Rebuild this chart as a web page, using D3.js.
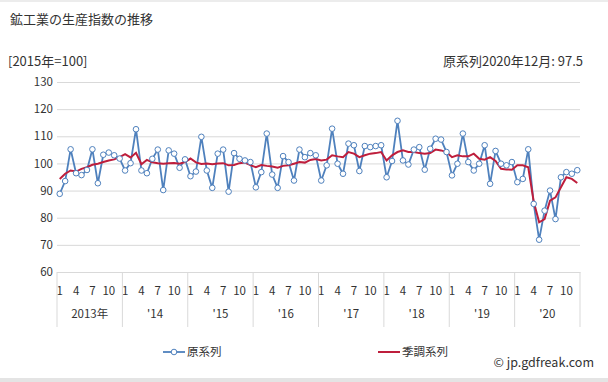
<!DOCTYPE html>
<html><head><meta charset="utf-8">
<script src="https://cdn.jsdelivr.net/npm/d3@7"></script>
<style>
body{margin:0;background:#fff;}
text{font-family:"Noto Sans CJK JP","Noto Sans",sans-serif;fill:#333;}
</style></head>
<body><svg id="c" width="608" height="382"></svg>
<script>
const years = [2013,2014,2015,2016,2017,2018,2019,2020];
const yearLabels = ["2013年","'14","'15","'16","'17","'18","'19","'20"];
const monthTicks = [1,4,7,10];
const yTicks = [60,70,80,90,100,110,120,130];
const original = [
 88.8, 93.5,105.2, 96.4, 95.7, 97.6,105.2, 92.7,103.2,104.0,103.0,101.8,
 97.4,100.1,112.6, 97.4, 96.4,101.7,105.1, 90.2,104.8,103.6, 98.4,101.5,
 95.3, 97.0,109.8, 97.4, 91.0,103.6,105.1, 89.6,103.8,101.7,101.1,100.5,
 91.2, 96.8,111.0, 95.9, 91.0,102.7,100.5, 93.7,105.1,102.3,103.8,103.0,
 93.7, 99.3,112.8, 99.9, 96.2,107.3,106.7, 97.2,106.4,106.0,106.4,106.7,
 94.9,100.9,115.7,101.1, 99.6,105.1,106.0, 97.7,105.4,109.1,108.8,104.2,
 95.6, 99.9,111.0,100.5, 97.4, 99.9,106.7, 92.5,104.6, 99.9, 99.3,100.5,
 93.1, 94.3,105.2, 85.1, 71.9, 82.6, 90.0, 79.5, 94.9, 96.8, 96.2, 97.5];
const adjusted = [
 94.3, 96.2, 97.4, 97.0, 98.0, 98.6, 99.5, 99.9,100.5,101.1,101.5,102.3,
103.4,102.2,103.9, 99.7,101.3,100.4,100.1, 99.9,100.1,100.2, 99.9,100.5,
101.8,100.4, 99.8,100.0, 99.7,100.0,100.1, 99.3, 99.4,100.1,100.3, 99.4,
 98.6, 99.4, 99.1, 98.9, 98.4, 99.1, 99.3, 99.9,100.5,100.3,101.3,101.6,
101.1,101.4,103.0,102.6,102.3,104.2,103.6,102.3,103.0,103.6,103.8,104.2,
101.1,103.0,104.2,104.8,104.2,104.2,103.8,103.6,103.8,105.1,104.8,104.2,
102.3,103.0,102.6,102.6,103.6,101.7,101.4,102.3,100.9, 98.0, 97.8, 97.7,
 99.3, 99.3, 98.6, 86.0, 78.3, 79.5, 86.3, 87.5, 91.2, 94.9, 94.3, 92.8];

const svg = d3.select("#c");
const L=57, R=580, T=82, B=272;
const idx = d3.range(original.length);
const x = d3.scaleBand().domain(idx).range([L,R]).padding(0);
const cx = i => x(i)+x.bandwidth()/2;
const y = d3.scaleLinear().domain([60,130]).range([B,T]);

svg.append("rect").attr("x",0).attr("y",0).attr("width",608).attr("height",2).attr("fill","#ececec");
svg.append("rect").attr("x",0).attr("y",378).attr("width",608).attr("height",4).attr("fill","#e4e4e4");

svg.append("text").attr("x",10).attr("y",24).attr("font-size",13).text("鉱工業の生産指数の推移");
svg.append("text").attr("x",8).attr("y",66).attr("font-size",13).text("[2015年=100]");
svg.append("text").attr("x",583).attr("y",66).attr("font-size",13).attr("text-anchor","end").text("原系列2020年12月: 97.5");

// grid
const gy = svg.append("g").attr("transform",`translate(${L},0)`)
  .call(d3.axisLeft(y).tickValues(yTicks).tickSize(-(R-L)).tickPadding(4).tickFormat(d3.format("d")));
gy.select(".domain").remove();
gy.selectAll(".tick line").attr("stroke","#d9d9d9");
gy.selectAll(".tick text").attr("font-size",11.5).attr("fill","#404040").style("font-family","'Noto Sans CJK JP',sans-serif");

// x axis month labels
const gx = svg.append("g").attr("transform",`translate(0,${B})`)
  .call(d3.axisBottom(x).tickValues(idx.filter(i=>monthTicks.includes(i%12+1))).tickSize(0).tickPadding(15).tickFormat(i=>i%12+1));
gx.select(".domain").attr("stroke","#d9d9d9");
gx.selectAll(".tick text").attr("font-size",11.5).attr("fill","#404040").style("font-family","'Noto Sans CJK JP',sans-serif");

// year separators and labels
const yb = d3.range(years.length+1).map(k=>k*12);
svg.append("g").selectAll("line").data(yb).join("line")
  .attr("x1",k=>k<original.length? x(k): R).attr("x2",k=>k<original.length? x(k): R)
  .attr("y1",B).attr("y2",327).attr("stroke","#d9d9d9");
svg.append("g").selectAll("text").data(years).join("text")
  .attr("x",(d,k)=> (x(k*12)+ (k*12+12<original.length? x(k*12+12): R))/2)
  .attr("y",318).attr("text-anchor","middle").attr("font-size",11.5).attr("fill","#404040")
  .text((d,k)=>yearLabels[k]);

// lines
const line = d3.line().x((d,i)=>cx(i)).y(d=>y(d));
svg.append("path").datum(original).attr("d",line).attr("fill","none").attr("stroke","#4f81bd").attr("stroke-width",1.8);
svg.append("path").datum(adjusted).attr("d",line).attr("fill","none").attr("stroke","#be1e3c").attr("stroke-width",2);
svg.append("g").selectAll("circle").data(original).join("circle")
  .attr("cx",(d,i)=>cx(i)).attr("cy",d=>y(d)).attr("r",2.8)
  .attr("fill","#fff").attr("stroke","#4f81bd").attr("stroke-width",1);

// legend
const lg = svg.append("g");
lg.append("line").attr("x1",163).attr("x2",185).attr("y1",352).attr("y2",352).attr("stroke","#4f81bd").attr("stroke-width",1.8);
lg.append("circle").attr("cx",174).attr("cy",352).attr("r",2.8).attr("fill","#fff").attr("stroke","#4f81bd");
lg.append("text").attr("x",187).attr("y",356).attr("font-size",11.5).attr("fill","#404040").text("原系列");
lg.append("line").attr("x1",378).attr("x2",400).attr("y1",352).attr("y2",352).attr("stroke","#be1e3c").attr("stroke-width",2);
lg.append("text").attr("x",402).attr("y",356).attr("font-size",11.5).attr("fill","#404040").text("季調系列");
svg.append("text").attr("x",594).attr("y",367).attr("text-anchor","end").attr("font-size",12.5).attr("fill","#404040").text("© jp.gdfreak.com");
</script></body></html>
